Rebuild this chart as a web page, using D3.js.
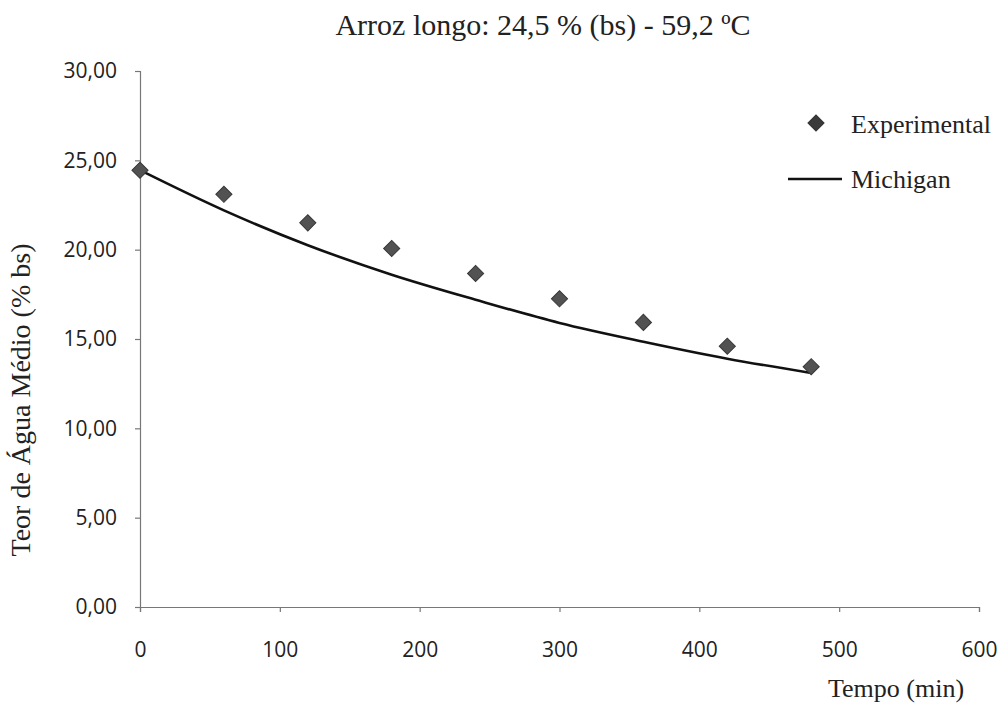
<!DOCTYPE html>
<html>
<head>
<meta charset="utf-8">
<script src="https://cdn.jsdelivr.net/npm/d3@7"></script>
<style>
  body { margin: 0; background: #fff; }
  .tick text { font-family: "Open Sans", sans-serif; font-size: 21px; fill: #222; }
  .serif { font-family: "Liberation Serif", "Times New Roman", serif; fill: #222; }
</style>
</head>
<body>
<div id="chart"></div>
<script>
// drying time (min)
var times = [0, 60, 120, 180, 240, 300, 360, 420, 480];
// measured moisture content (% bs)
var experimental = [24.45, 23.1, 21.5, 20.07, 18.67, 17.25, 15.93, 14.6, 13.45];
// Michigan model fit
var michigan = [24.45, 22.2, 20.25, 18.6, 17.2, 15.9, 14.85, 13.9, 13.1];
var xTicks = [0, 100, 200, 300, 400, 500, 600];
var yTicks = [0, 5, 10, 15, 20, 25, 30];

var width = 1003,
  height = 704;
var margin = { top: 71, left: 140 };
var plotW = 839,
  plotH = 536;

var svg = d3
  .select("#chart")
  .append("svg")
  .attr("width", width)
  .attr("height", height);

var x = d3.scaleLinear().domain([0, 600]).range([margin.left, margin.left + plotW]);
var y = d3.scaleLinear().domain([0, 30]).range([margin.top + plotH, margin.top]);

var fmt = function(d) {
  return d3.format(".2f")(d).replace(".", ",");
};

//y axis
svg
  .append("g")
  .attr("transform", "translate(" + margin.left + ",0)")
  .call(d3.axisLeft(y).tickValues(yTicks).tickFormat(fmt).tickSize(5).tickPadding(18));

//x axis
svg
  .append("g")
  .attr("transform", "translate(0," + (margin.top + plotH) + ")")
  .call(d3.axisBottom(x).tickValues(xTicks).tickSize(5).tickPadding(30));

svg.selectAll(".domain, .tick line").attr("stroke", "#777").attr("stroke-width", 1.2);

//michigan curve
var line = d3
  .line()
  .x(function(d, i) { return x(times[i]); })
  .y(function(d) { return y(d); })
  .curve(d3.curveMonotoneX);

svg
  .append("path")
  .datum(michigan)
  .attr("fill", "none")
  .attr("stroke", "#111")
  .attr("stroke-width", 2.6)
  .attr("d", line);

//experimental diamonds
var diamond = d3.symbol().type(d3.symbolSquare).size(130);

svg
  .selectAll(".pt")
  .data(experimental)
  .enter()
  .append("path")
  .attr("class", "pt")
  .attr("d", diamond)
  .attr("transform", function(d, i) {
    return "translate(" + x(times[i]) + "," + y(d) + ") rotate(45)";
  })
  .attr("fill", "#525252")
  .attr("stroke", "#383838")
  .attr("stroke-width", 1);

//title
svg
  .append("text")
  .attr("class", "serif")
  .attr("x", 543)
  .attr("y", 35)
  .attr("text-anchor", "middle")
  .attr("font-size", "30px")
  .text("Arroz longo: 24,5 % (bs) - 59,2 ºC");

//axis titles
svg
  .append("text")
  .attr("class", "serif")
  .attr("transform", "translate(30,400) rotate(-90)")
  .attr("text-anchor", "middle")
  .attr("font-size", "28px")
  .text("Teor de Água Médio (% bs)");

svg
  .append("text")
  .attr("class", "serif")
  .attr("x", 896)
  .attr("y", 697)
  .attr("text-anchor", "middle")
  .attr("font-size", "26px")
  .text("Tempo (min)");

//legend
var legend = svg.append("g");
legend
  .append("path")
  .attr("d", diamond)
  .attr("transform", "translate(816,123) rotate(45)")
  .attr("fill", "#3a3a3a")
  .attr("stroke", "#333");
legend
  .append("text")
  .attr("class", "serif")
  .attr("x", 851)
  .attr("y", 133)
  .attr("font-size", "26px")
  .text("Experimental");
legend
  .append("line")
  .attr("x1", 788)
  .attr("x2", 842)
  .attr("y1", 179)
  .attr("y2", 179)
  .attr("stroke", "#111")
  .attr("stroke-width", 2.6);
legend
  .append("text")
  .attr("class", "serif")
  .attr("x", 851)
  .attr("y", 188)
  .attr("font-size", "26px")
  .text("Michigan");
</script>
</body>
</html>
